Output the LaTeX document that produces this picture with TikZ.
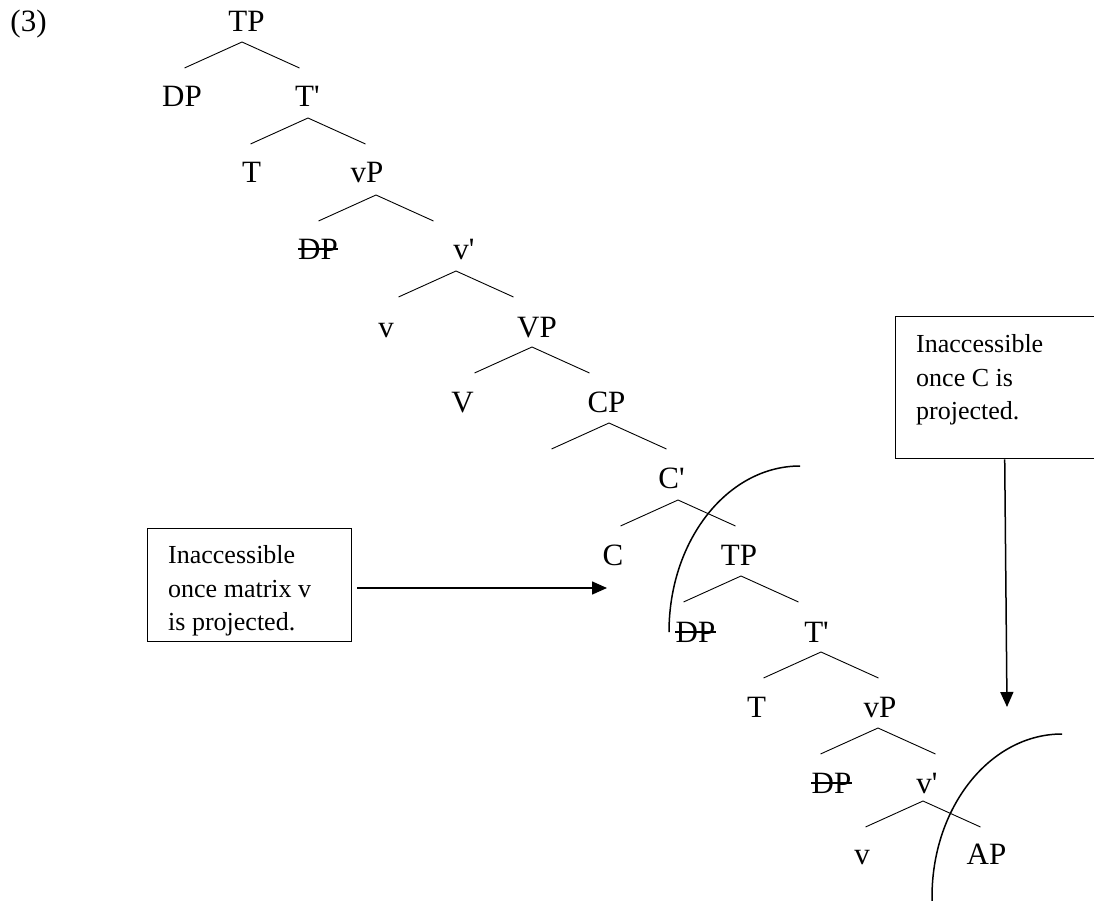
\documentclass[tikz,border=0pt]{standalone}
\usepackage{fontspec}
\setmainfont{Liberation Serif}
\usetikzlibrary{arrows.meta,calc}
\begin{document}
\begin{tikzpicture}[x=1pt,y=-1pt,
  lab/.style={font=\fontsize{31}{37}\selectfont, inner sep=0pt, anchor=base},
  branch/.style={line width=0.9pt},
  strike/.style={line width=1.4pt},
  boxframe/.style={draw, line width=1.4pt, inner sep=0pt, anchor=north west},
  boxtext/.style={font=\fontsize{26}{33.5}\selectfont, inner sep=0pt, anchor=north west, align=left},
  arc/.style={line width=1.5pt},
  pointer/.style={line width=1.5pt, -{Triangle[length=15pt,width=13pt]}}]
\clip (0,0) rectangle (1094,901);
\fill[white] (0,0) rectangle (1094,901);
% example number
\node[lab] (ex) at (28.5,32) {(3)};
% tree labels
\node[lab] (tp1) at (246.5,32) {TP};
\node[lab] (dp1) at (182,107) {DP};
\node[lab] (tb1) at (307.5,107) {T\textquotesingle};
\node[lab] (t1) at (251.5,183) {T};
\node[lab] (vp1) at (367,183) {vP};
\node[lab] (dp2) at (318,259) {DP};
\node[lab] (vb1) at (464,259) {v\textquotesingle};
\node[lab] (v1) at (386,337) {v};
\node[lab] (VP) at (537,337) {VP};
\node[lab] (V) at (462.5,412) {V};
\node[lab] (cp) at (606.5,412) {CP};
\node[lab] (cb) at (671.5,488) {C\textquotesingle};
\node[lab] (c) at (613,565) {C};
\node[lab] (tp2) at (739,565) {TP};
\node[lab] (dp3) at (695.5,642) {DP};
\node[lab] (tb2) at (816.5,642) {T\textquotesingle};
\node[lab] (t2) at (756.5,717) {T};
\node[lab] (vp2) at (880,717) {vP};
\node[lab] (dp4) at (831.5,793) {DP};
\node[lab] (vb2) at (927,793) {v\textquotesingle};
\node[lab] (v2) at (862,864) {v};
\node[lab] (ap) at (986.5,864) {AP};
% strike-throughs
\foreach \d in {dp2,dp3,dp4} \draw[strike] (\d.west) -- (\d.east);
% branches
\foreach \n/\x/\y in {1/242/42, 2/308/118, 3/376/195, 4/456/271, 5/532/347,
  6/609/423, 7/678/500, 8/741/576, 9/821/652, 10/878/728, 11/923/801} {
  \coordinate (b\n) at (\x,\y);
  \draw[branch] (b\n) ++(-57.5,26) -- (b\n) -- ++(57.5,26);
}
% boxes
\node[boxframe, minimum width=204pt, minimum height=113pt] (box1) at (147,528) {};
\node[boxtext] (txt1) at (168,545.5) {Inaccessible\\once matrix v\\is projected.};
\node[boxframe, minimum width=215pt, minimum height=142pt] (box2) at (895,316) {};
\node[boxtext] (txt2) at (916,334.5) {Inaccessible\\once C is\\projected.};
% arrows
\coordinate (tip1) at (607,588);
\coordinate (tip2) at (1007,707);
\draw[pointer, shorten <=5pt] (box1.east |- tip1) -- (tip1);
\draw[pointer] ($(box2.south)+(1.5,0)$) -- (tip2);
% arcs
\draw[arc] (800,466) .. controls (727.6,466) and (669,540.3) .. (669,632);
\draw[arc] (1062,734) .. controls (990.2,734) and (932,807) .. (932,897) -- (932,905);
\end{tikzpicture}
\end{document}
